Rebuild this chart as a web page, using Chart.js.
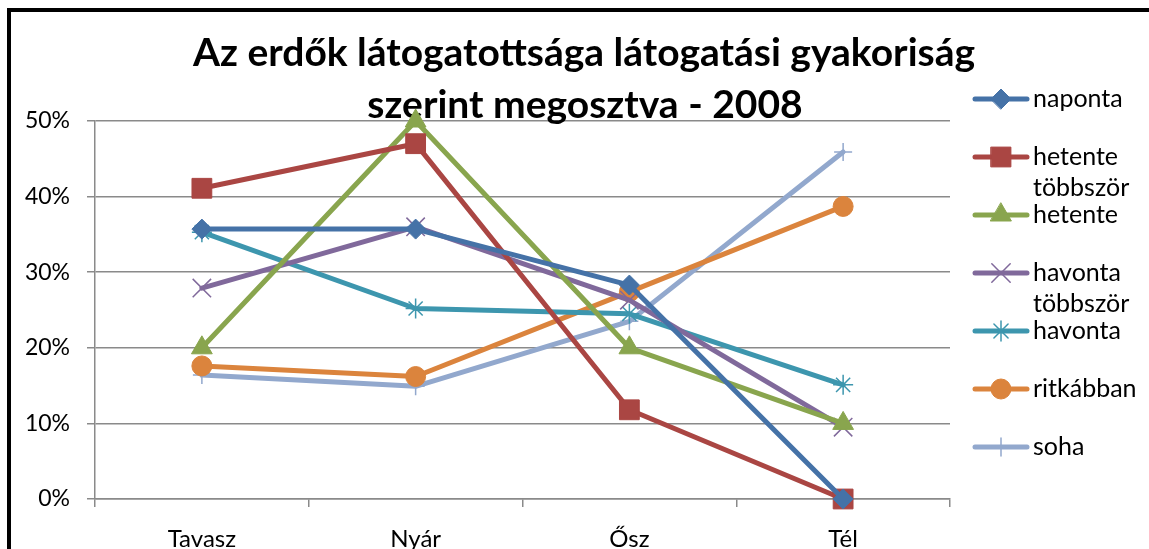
<!DOCTYPE html>
<html lang="hu">
<head>
<meta charset="utf-8">
<title>Az erdők látogatottsága</title>
<script src="https://cdn.jsdelivr.net/npm/chart.js@4/dist/chart.umd.min.js"></script>
<style>
  html, body { margin: 0; padding: 0; background: #fff; }
  canvas { display: block; }
</style>
</head>
<body>
<canvas id="myChart" width="1149" height="549"></canvas>
<script>
const seasons = ["Tavasz", "Nyár", "Ősz", "Tél"];

// percent of visitors per season
const naponta = [35.7, 35.7, 28.3, 0];
const hetenteTobbszor = [41.1, 47.0, 11.8, 0];
const hetente = [20.0, 50.0, 20.0, 10.0];
const havontaTobbszor = [27.9, 36.0, 26.3, 9.5];
const havonta = [35.3, 25.2, 24.5, 15.1];
const ritkabban = [17.6, 16.2, 27.4, 38.7];
const soha = [16.4, 14.9, 23.5, 45.9];

const yTicks = [0, 10, 20, 30, 40, 50];
const titleLines = ["Az erdők látogatottsága látogatási gyakoriság", "szerint megosztva - 2008"];

const FONT = "Lato, 'Open Sans', sans-serif";
const GRID = "#8a8a8a";

const series = [
  { label: ["naponta"], data: naponta, color: "#4572A7", style: "rectRot", r: 10, bw: 1 },
  { label: ["hetente", "többször"], data: hetenteTobbszor, color: "#AA4643", style: "rect", r: 14, bw: 1 },
  { label: ["hetente"], data: hetente, color: "#89A54E", style: "triangle", r: 12, bw: 1 },
  { label: ["havonta", "többször"], data: havontaTobbszor, color: "#80699B", style: "crossRot", r: 13, bw: 1.5 },
  { label: ["havonta"], data: havonta, color: "#3D96AE", style: "star", r: 10, bw: 1.5 },
  { label: ["ritkábban"], data: ritkabban, color: "#DB843D", style: "circle", r: 10, bw: 1 },
  { label: ["soha"], data: soha, color: "#92A8CD", style: "cross", r: 9, bw: 1.5 },
];

/* frame + title, drawn under the lines */
const decor = {
  id: "decor",
  beforeDatasetsDraw(chart) {
    const c = chart.ctx;
    c.save();
    c.fillStyle = "#000";
    c.fillRect(7, 8, chart.width - 7, 4);
    c.fillRect(7, 8, 4, chart.height - 8);
    c.font = "bold 39px " + FONT;
    c.textAlign = "center";
    c.textBaseline = "alphabetic";
    c.fillText(titleLines[0], 584, 66);
    c.fillText(titleLines[1], 585, 118);
    c.restore();
  },
};

/* legend on the right, line + marker + (wrapped) text */
const sideLegend = {
  id: "sideLegend",
  afterDraw(chart) {
    const c = chart.ctx;
    c.save();
    series.forEach((s, i) => {
      const y = 99 + i * 58;
      c.strokeStyle = s.color;
      c.fillStyle = s.color;
      c.lineWidth = 5;
      c.lineCap = "round";
      c.beginPath();
      c.moveTo(975, y);
      c.lineTo(1027, y);
      c.stroke();
      c.lineWidth = s.bw;
      Chart.helpers.drawPoint(c, { pointStyle: s.style, radius: s.r, rotation: 0, borderWidth: s.bw }, 1001, y);
      c.fillStyle = "#000";
      c.font = "25px " + FONT;
      c.textAlign = "left";
      c.textBaseline = "middle";
      s.label.forEach((t, k) => c.fillText(t, 1033, y + k * 31));
    });
    c.restore();
  },
};

new Chart(document.getElementById("myChart"), {
  type: "line",
  data: {
    labels: seasons,
    datasets: series.map((s) => ({
      label: s.label.join(" "),
      data: s.data,
      borderColor: s.color,
      backgroundColor: s.color,
      borderWidth: 5,
      borderJoinStyle: "round",
      borderCapStyle: "round",
      tension: 0,
      clip: false,
      pointStyle: s.style,
      pointRadius: s.r,
      pointBorderWidth: s.bw,
      pointBackgroundColor: s.color,
      pointBorderColor: s.color,
    })),
  },
  options: {
    responsive: false,
    animation: false,
    layout: { padding: { top: 121, right: 199, left: 0, bottom: 0 } },
    plugins: {
      legend: { display: false },
      title: { display: false },
      tooltip: { enabled: false },
    },
    scales: {
      x: {
        offset: true,
        grid: { offset: true, drawOnChartArea: false, drawTicks: true, tickLength: 8, color: GRID, lineWidth: 1.5 },
        border: { color: GRID, width: 1.5 },
        ticks: { color: "#000", padding: 18, font: { family: FONT, size: 24 } },
        afterFit: (scale) => { scale.height = 50; },
      },
      y: {
        min: 0,
        max: 50,
        afterBuildTicks: (scale) => { scale.ticks = yTicks.map((v) => ({ value: v })); },
        grid: { color: GRID, lineWidth: 1.5, tickLength: 8 },
        border: { color: GRID, width: 1.5 },
        ticks: { color: "#000", padding: 17, font: { family: FONT, size: 23 }, callback: (v) => v + "%" },
        afterFit: (scale) => { scale.width = 95; },
      },
    },
  },
  plugins: [decor, sideLegend],
});
</script>
</body>
</html>
